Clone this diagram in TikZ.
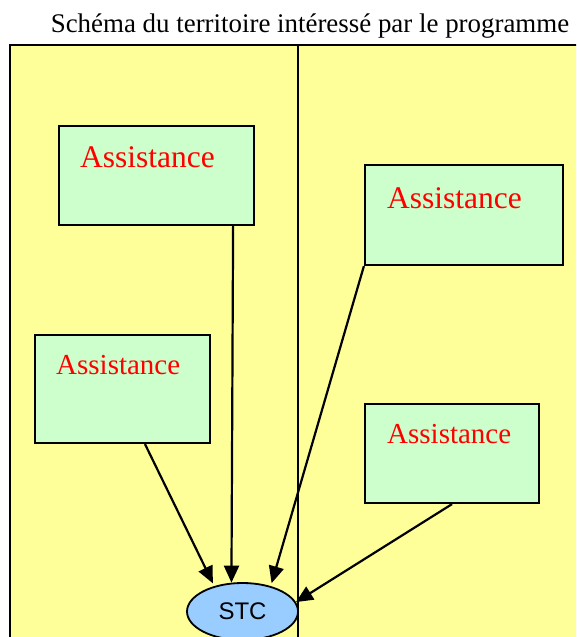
\documentclass[tikz,border=0pt]{standalone}
\usepackage{fontspec}
\setmainfont{Liberation Serif}
\newfontfamily\arialfont{Liberation Sans}
\usetikzlibrary{arrows.meta,calc,shapes.geometric}
\definecolor{zoneyellow}{RGB}{255,255,153}
\definecolor{boxgreen}{RGB}{204,255,204}
\definecolor{ellblue}{RGB}{153,204,255}
\tikzset{
  abox/.style={draw=black,line width=2.2pt,fill=boxgreen,rectangle,inner sep=0pt},
  alabel/.style={text=red,inner sep=0pt,anchor=base west},
  conn/.style={line width=2.2pt,-{Triangle[length=17pt,width=15pt]}},
}
\begin{document}
\begin{tikzpicture}[x=1pt,y=-1pt]
\useasboundingbox (0,0) rectangle (576,637);
\clip (0,0) rectangle (576,637);
\node[inner sep=0pt,anchor=base,font=\fontsize{26.9}{32}\selectfont] (title) at (310,32) {Schéma du territoire intéressé par le programme};
\draw[line width=2.4pt,fill=zoneyellow] (10,45) rectangle (600,660);
\coordinate (divtop) at (298,45);
\coordinate (divbot) at (298,660);
\draw[line width=1.6pt] (divtop) -- (divbot);
\node[abox,minimum width=195pt,minimum height=99pt] (b1) at (156.5,175.5) {};
\node[alabel,font=\fontsize{31.5}{36}\selectfont] (t1) at (80,167) {Assistance};
\node[abox,minimum width=198pt,minimum height=100pt] (b2) at (464,215) {};
\node[alabel,font=\fontsize{31.5}{36}\selectfont] (t2) at (387,208) {Assistance};
\node[abox,minimum width=175pt,minimum height=108pt] (b3) at (122.5,389) {};
\node[alabel,font=\fontsize{29}{34}\selectfont] (t3) at (56,374) {Assistance};
\node[abox,minimum width=174pt,minimum height=99pt] (b4) at (452,453.5) {};
\node[alabel,font=\fontsize{29}{34}\selectfont] (t4) at (387,443) {Assistance};
\node[ellipse,draw=black,line width=1.8pt,fill=ellblue,minimum width=111pt,minimum height=57pt,inner sep=0pt,font=\arialfont\fontsize{24}{28}\selectfont] (stc) at (242.5,611.5) {STC};
\draw[conn] ($(b1.south east)+(-22,0)$) -- (stc.111);
\draw[conn,shorten >=3pt] ($(b3.south)+(22.5,0)$) -- (stc.138);
\draw[conn,shorten >=3pt] (b2.south west) -- (stc.42);
\draw[conn] (b4.south) -- (stc.10);
\end{tikzpicture}
\end{document}
